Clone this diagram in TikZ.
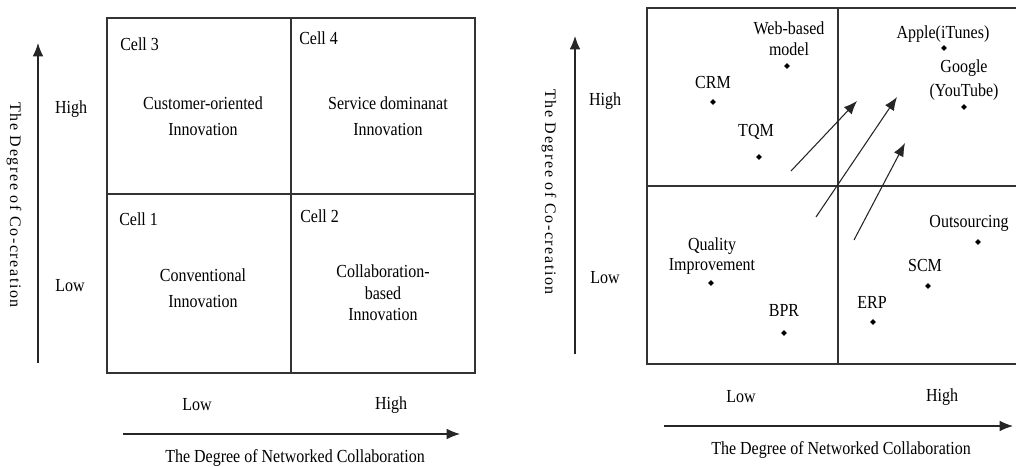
\documentclass[tikz,border=0pt]{standalone}
\usepackage{fontspec}
\setmainfont{Liberation Serif}
\usetikzlibrary{arrows.meta,shapes.geometric}
\begin{document}
\begin{tikzpicture}[x=0.75pt,y=-0.75pt,
  frame/.style={draw=black!80,line width=0.8pt},
  axis/.style={draw=black!85,line width=0.9pt,-{Latex[length=10pt,width=8pt]}},
  moveto/.style={draw=black!85,line width=0.8pt,-{Latex[length=10pt,width=8pt]}},
  txt/.style={inner sep=0pt,font=\fontsize{12}{14}\selectfont,yscale=1.15,align=center},
  axtitle/.style={inner sep=0pt,font=\fontsize{12}{14}\selectfont\addfontfeature{LetterSpace=10}},
  dot/.style={diamond,fill=black,inner sep=0pt,minimum size=4.5pt}]
\useasboundingbox (0,0) rectangle (1016,467);
\fill[white] (0,0) rectangle (1016,467);

% ---------- left matrix ----------
\draw[frame] (107,18) rectangle (475,373);
\draw[frame] (291,18) -- (291,373);
\draw[frame] (107,194) -- (475,194);

\node[txt,anchor=west] (c3) at (120,44) {Cell 3};
\node[txt,anchor=west] (c4) at (299,38) {Cell 4};
\node[txt,anchor=west] (c1) at (119,219) {Cell 1};
\node[txt,anchor=west] (c2) at (300,216) {Cell 2};

\node[txt,font=\fontsize{12}{17.25}\selectfont] (co) at (203,116) {Customer-oriented\\Innovation};
\node[txt,font=\fontsize{12}{17.25}\selectfont] (sd) at (388,116) {Service dominanat\\Innovation};
\node[txt,font=\fontsize{12}{17.25}\selectfont] (cv) at (203,288) {Conventional\\Innovation};
\node[txt,font=\fontsize{12}{14}\selectfont] (cb) at (383,293) {Collaboration-\\based\\Innovation};

\node[txt] (lhigh) at (71,109) {High};
\node[txt] (llow) at (70,286) {Low};
\coordinate (lyb) at (38,363);
\coordinate (lyt) at (38,43);
\draw[axis] (lyb) -- (lyt);
\node[axtitle,rotate=-90] (lytitle) at (14,205) {The Degree of Co-creation};

\node[txt] (lxlow) at (197,405) {Low};
\node[txt] (lxhigh) at (391,405) {High};
\coordinate (lxl) at (123,434);
\coordinate (lxr) at (460,434);
\draw[axis] (lxl) -- (lxr);
\node[txt] (lxtitle) at (295,458) {The Degree of Networked Collaboration};

% ---------- right matrix ----------
\draw[frame] (1016,8) -- (647,8) -- (647,364) -- (1016,364);
\draw[frame] (838,8) -- (838,364);
\draw[frame] (647,186) -- (1016,186);

\node[txt] (rhigh) at (605,101) {High};
\node[txt] (rlow) at (605,278) {Low};
\coordinate (ryb) at (575,354);
\coordinate (ryt) at (575,36);
\draw[axis] (ryb) -- (ryt);
\node[axtitle,rotate=-90] (rytitle) at (549,192) {The Degree of Co-creation};

\node[txt,font=\fontsize{12}{13.5}\selectfont] (web) at (789,39) {Web-based\\model};
\node[dot] (dweb) at (787,66) {};
\node[txt] (crm) at (713,82) {CRM};
\node[dot] (dcrm) at (713,102) {};
\node[txt] (tqm) at (756,132) {TQM};
\node[dot] (dtqm) at (759,157) {};
\node[txt] (apple) at (943,34) {Apple(iTunes)};
\node[dot] (dapple) at (944,48) {};
\node[txt,font=\fontsize{12}{15.5}\selectfont] (google) at (964,80) {Google\\(YouTube)};
\node[dot] (dgoogle) at (964,107) {};
\node[txt] (outs) at (969,223) {Outsourcing};
\node[dot] (douts) at (978,242) {};
\node[txt,font=\fontsize{12}{13.5}\selectfont] (qi) at (712,256) {Quality\\Improvement};
\node[dot] (dqi) at (711,283) {};
\node[txt] (bpr) at (784,310) {BPR};
\node[dot] (dbpr) at (784,333) {};
\node[txt] (scm) at (925,265) {SCM};
\node[dot] (dscm) at (928,286) {};
\node[txt] (erp) at (872,302) {ERP};
\node[dot] (derp) at (873,322) {};

\coordinate (a1s) at (791,171);
\coordinate (a1e) at (857,101);
\coordinate (a2s) at (816,217);
\coordinate (a2e) at (897,97);
\coordinate (a3s) at (854,240);
\coordinate (a3e) at (905,143);
\draw[moveto] (a1s) -- (a1e);
\draw[moveto] (a2s) -- (a2e);
\draw[moveto] (a3s) -- (a3e);

\node[txt] (rxlow) at (741,397) {Low};
\node[txt] (rxhigh) at (942,397) {High};
\coordinate (rxl) at (664,426);
\coordinate (rxr) at (1013,426);
\draw[axis] (rxl) -- (rxr);
\node[txt] (rxtitle) at (841,450) {The Degree of Networked Collaboration};
\end{tikzpicture}
\end{document}
